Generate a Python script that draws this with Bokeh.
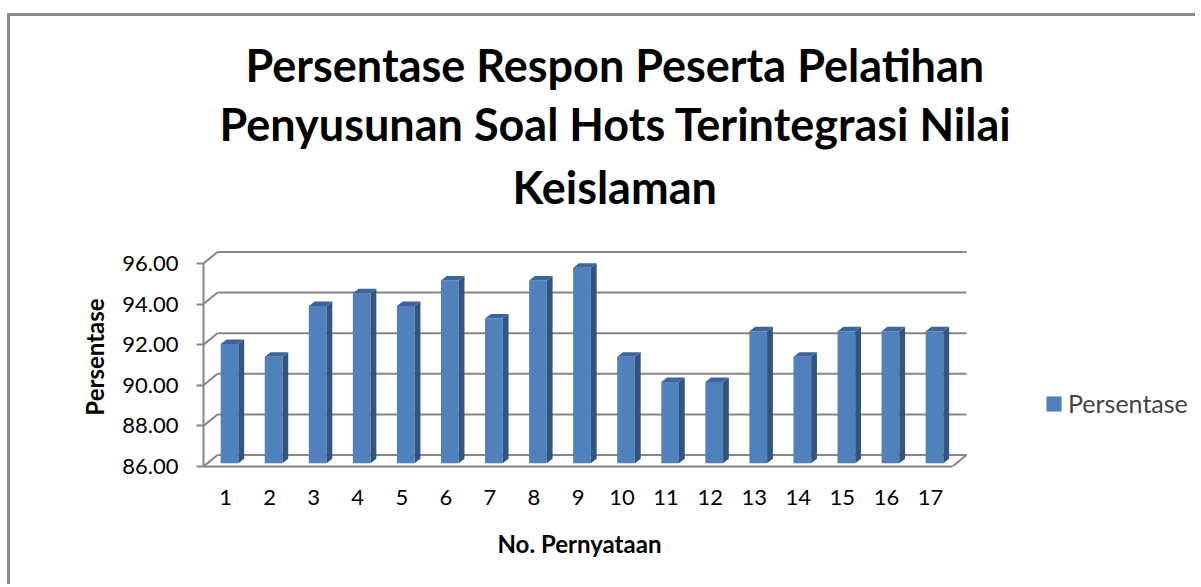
import numpy as np
from bokeh.plotting import figure
from bokeh.models import (Range1d, FixedTicker, Title, Legend, LegendItem)
from bokeh.embed import file_html
from bokeh.resources import INLINE

# ---------------- data ----------------
categories = [str(i) for i in range(1, 18)]
values = [91.875, 91.25, 93.75, 94.375, 93.75, 95.0, 93.125, 95.0, 95.625,
          91.25, 90.0, 90.0, 92.5, 91.25, 92.5, 92.5, 92.5]
y_ticks = [86, 88, 90, 92, 94, 96]
y_tick_labels = ["86.00", "88.00", "90.00", "92.00", "94.00", "96.00"]
series_name = "Persentase"
title_lines = ["Persentase Respon Peserta Pelatihan",
               "Penyusunan Soal Hots Terintegrasi Nilai",
               "Keislaman"]
x_title = "No. Pernyataan"
y_title = "Persentase"

# ---------------- style ----------------
FONT = "Lato"
GRID = "#868686"
FRONT = "#4F81BD"
SIDE = "#32557f"
TOP = "#3c6598"

CAN_X, CAN_Y = 10, 16   # canvas origin on the page (after margin + border)
W, H = 1188, 571
# pixel layout of the frame (page coordinates)
FL, FT, FB = 203, 247, 466
FR = CAN_X + W
XS = 44.06   # px per category
YS = 20.3    # px per value unit
Y0 = 86.0

def dx(px):
    return 0.5 + (px - FL) / XS

def dy(py):
    return Y0 + (FB - py) / YS

# 3-D depth offsets (data units)
DX, DY = 14 / XS, 11.5 / YS
BX, BY = 4 / XS, 3.3 / YS
BW = 17.7 / XS
BDX, BDY = 5.8 / XS, 4.5 / YS

n = len(values)
xpos = np.arange(1, n + 1, dtype=float)
v = np.array(values, dtype=float)
ticks = np.array(y_ticks, dtype=float)

p = figure(width=W, height=H, x_range=Range1d(0.5, dx(FR)),
           y_range=Range1d(Y0, dy(FT)), output_backend="svg",
           toolbar_location=None,
           min_border_left=FL - CAN_X, min_border_right=0,
           min_border_top=FT - CAN_Y, min_border_bottom=H - (FB - CAN_Y))
p.styles = {"border-left": "3px solid #8a8a8a",
            "border-top": "3px solid #8a8a8a",
            "margin-top": "13px", "margin-left": "7px"}
p.xgrid.visible = False
p.ygrid.visible = False
p.outline_line_color = None
p.background_fill_color = "white"
p.border_fill_color = "white"

# back wall grid lines and diagonals
x_lo, x_hi = 0.5, n + 0.5
p.segment(x0=np.full(len(ticks), x_lo + DX), y0=ticks + DY,
          x1=np.full(len(ticks), x_hi + DX), y1=ticks + DY,
          line_color=GRID, line_width=2)
p.segment(x0=np.full(len(ticks), x_lo), y0=ticks,
          x1=np.full(len(ticks), x_lo + DX), y1=ticks + DY,
          line_color=GRID, line_width=2)
p.segment(x0=[x_hi], y0=[Y0], x1=[x_hi + DX], y1=[Y0 + DY],
          line_color=GRID, line_width=2)

# bars: front face, side face, top face
xc = xpos + BX
bottom = Y0 + BY
front = p.vbar(x=xc, width=BW, bottom=bottom, top=v + BY,
               fill_color=FRONT, line_color=None)
xr = xc + BW / 2
xl = xc - BW / 2
side_xs = [[a, a + BDX, a + BDX, a] for a in xr]
side_ys = [[bottom, bottom + BDY, t + BY + BDY, t + BY] for t in v]
p.patches(side_xs, side_ys, fill_color=SIDE, line_color=None)
top_xs = [[l, r, r + BDX, l + BDX] for l, r in zip(xl, xr)]
top_ys = [[t + BY, t + BY, t + BY + BDY, t + BY + BDY] for t in v]
p.patches(top_xs, top_ys, fill_color=TOP, line_color=None)

# axes
ya = p.yaxis[0]
ya.ticker = FixedTicker(ticks=y_ticks)
ya.major_label_overrides = {t: s for t, s in zip(y_ticks, y_tick_labels)}
ya.bounds = (y_ticks[0], y_ticks[-1])
ya.axis_line_color = GRID
ya.axis_line_width = 2
ya.major_tick_line_color = GRID
ya.major_tick_line_width = 2
ya.major_tick_out = 7
ya.major_tick_in = 0
ya.minor_tick_line_color = None
ya.major_label_text_font = FONT
ya.major_label_text_font_size = "22px"
ya.major_label_text_color = "black"
ya.major_label_standoff = 18
ya.axis_label = y_title
ya.axis_label_text_font = FONT
ya.axis_label_text_font_style = "bold"
ya.axis_label_text_font_size = "24px"
ya.axis_label_text_color = "black"
ya.axis_label_standoff = 10

xa = p.xaxis[0]
xa.ticker = FixedTicker(ticks=list(xpos))
xa.major_label_overrides = {float(i + 1): c for i, c in enumerate(categories)}
xa.bounds = (x_lo, x_hi)
xa.axis_line_color = GRID
xa.axis_line_width = 2
xa.major_tick_line_color = None
xa.minor_tick_line_color = None
xa.major_tick_out = 0
xa.major_tick_in = 0
xa.major_label_text_font = FONT
xa.major_label_text_font_size = "22px"
xa.major_label_text_color = "black"
xa.major_label_standoff = 23

# x-axis title placed under the axis (centred under the bars)
p.add_layout(Title(text=x_title, align="left", offset=294, standoff=39,
                   text_font=FONT, text_font_style="bold",
                   text_font_size="24px", text_color="black"), "below")

# gap between the plot area and the chart title
p.add_layout(Title(text=" ", text_font_size="1px", standoff=24), "above")
# chart title: three centred lines (added nearest-first)
for line, off, so in zip(reversed(title_lines), [309, 16, 42], [13, 2, 3]):
    p.add_layout(Title(text=line, align="left", offset=off, standoff=so,
                       text_font=FONT, text_font_style="bold",
                       text_font_size="45px", text_color="black"), "above")

# legend
legend = Legend(items=[LegendItem(label=series_name, renderers=[front])],
                location=(1044 - FL, 48), glyph_width=19, glyph_height=19,
                label_text_font=FONT, label_text_font_size="25px",
                label_standoff=5, padding=0, margin=0, spacing=0,
                border_line_color=None, background_fill_alpha=0)
p.add_layout(legend)

open("out.html", "w").write(file_html(p, INLINE))
